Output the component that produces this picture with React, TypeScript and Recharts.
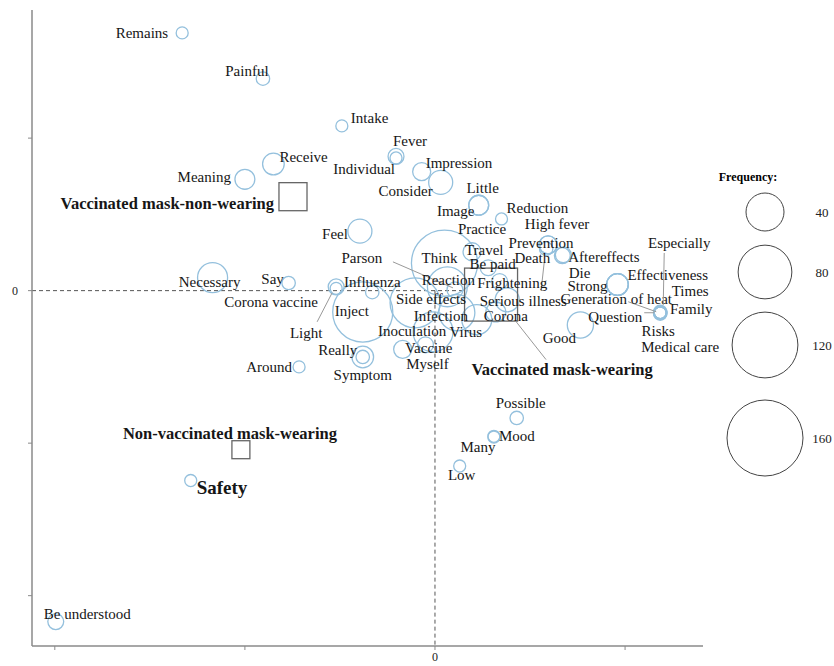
import React from 'react';
import { ScatterChart, Scatter, XAxis, YAxis, ZAxis, ReferenceLine } from 'recharts';

// correspondence analysis: words (bubbles) and respondent groups (squares)
const words = [
  'Remains', 'Painful', 'Intake', 'Fever', 'Individual', 'Impression', 'Consider', 'Little', 'Image',
  'Reduction', 'Receive', 'Meaning', 'Necessary', 'Feel', 'Say', 'Corona vaccine', 'Light', 'Influenza',
  'Inject', 'Parson', 'Think', 'Practice', 'Travel', 'Be paid', 'Reaction', 'Side effects',
  'Serious illness', 'Infection', 'Corona', 'Inoculation', 'Virus', 'Vaccine', 'Myself', 'Really',
  'Symptom', 'Around', 'High fever', 'Prevention', 'Frightening', 'Death', 'Aftereffects', 'Die',
  'Strong', 'Effectiveness', 'Generation of heat', 'Especially', 'Times', 'Family', 'Risks',
  'Medical care', 'Question', 'Good', 'Possible', 'Mood', 'Many', 'Low', 'Safety', 'Be understood',
];
const dim1 = [
  -1.33, -0.905, -0.49, -0.205, -0.205, -0.07, 0.03, 0.23, 0.23,
  0.35, -0.85, -1.0, -1.17, -0.395, -0.77, -0.52, -0.52, -0.33,
  -0.38, 0.105, 0.05, 0.195, 0.28, 0.34, 0.065, -0.105,
  0.38, 0.115, 0.32, -0.01, 0.22, -0.17, -0.05, -0.38,
  -0.38, -0.715, 0.595, 0.595, 0.585, 0.67, 0.675, 0.96,
  0.96, 0.96, 1.185, 1.185, 1.185, 1.185, 1.185,
  1.185, 1.185, 0.765, 0.43, 0.31, 0.31, 0.13, -1.285, -1.995,
];
const dim2 = [
  1.69, 1.39, 1.08, 0.88, 0.87, 0.78, 0.71, 0.56, 0.56,
  0.47, 0.83, 0.73, 0.085, 0.39, 0.05, 0.015, 0.025, -0.01,
  -0.14, 0.005, 0.18, 0.255, 0.15, 0.06, 0.025, -0.08,
  -0.06, -0.145, -0.14, -0.27, -0.19, -0.385, -0.355, -0.435,
  -0.435, -0.5, 0.3, 0.3, 0.275, 0.23, 0.235, 0.04,
  0.04, 0.04, -0.145, -0.14, -0.145, -0.15, -0.145,
  -0.145, -0.145, -0.225, -0.835, -0.955, -0.96, -1.15, -1.245, -2.17,
];
const freq = [
  4, 5, 4, 7, 4, 9, 16, 11, 11,
  4, 13, 11, 25, 16, 5, 4, 7, 5,
  100, 7, 121, 9, 7, 7, 44, 69,
  16, 36, 11, 44, 25, 9, 7, 13,
  5, 4, 9, 9, 5, 7, 7, 13,
  13, 13, 4, 5, 4, 5, 4,
  4, 5, 19, 5, 4, 4, 4, 4, 7,
];

const groups = ['Vaccinated mask-non-wearing', 'Non-vaccinated mask-wearing', 'Vaccinated mask-wearing'];
const groupDim1 = [-0.747, -1.021, 0.295];
const groupDim2 = [0.616, -1.043, -0.026];
const groupN = [280, 115, 1000];

const legendFreq = [40, 80, 120, 160];
const xTicks = [-2, -1, 0, 1];
const yTicks = [-2, -1, 0, 1];

const wordRows = words.map((w, i) => ({ word: w, x: dim1[i], y: dim2[i], f: freq[i] }));
const groupRows = groups.map((g, i) => ({ word: g, x: groupDim1[i], y: groupDim2[i], n: groupN[i] }));

const FONT = '"Liberation Serif", "Times New Roman", serif';
const BUBBLE = '#94c0dd';
const MAX_F = 160;
const MAX_R = 38;
const AREA_MAX = Math.PI * MAX_R * MAX_R;

// label placement (px from the point), a = text anchor, line = leader line
type Lab = { dx: number; dy: number; a?: 'start' | 'middle' | 'end'; line?: number[]; bold?: boolean; size?: number };
const LABELS: Record<string, Lab> = {
  Remains: { dx: -14, dy: 5, a: 'end' },
  Painful: { dx: -16, dy: -3 },
  Intake: { dx: 9, dy: -3, a: 'start' },
  Fever: { dx: 14, dy: -10 },
  Individual: { dx: -1, dy: 16, a: 'end' },
  Impression: { dx: 4, dy: -4, a: 'start' },
  Consider: { dx: -8, dy: 14, a: 'end' },
  Little: { dx: 4, dy: -12 },
  Image: { dx: -23, dy: 11 },
  Reduction: { dx: 5, dy: -6, a: 'start' },
  Receive: { dx: 6, dy: -2, a: 'start' },
  Meaning: { dx: -14, dy: 3, a: 'end' },
  Necessary: { dx: -3, dy: 9 },
  Feel: { dx: -12, dy: 8, a: 'end' },
  Say: { dx: -16, dy: 1 },
  'Corona vaccine': { dx: -65, dy: 19 },
  Light: { dx: -30, dy: 51, line: [-19, 35, -4, 6] },
  Influenza: { dx: 0, dy: -5 },
  Inject: { dx: -11, dy: 4 },
  Parson: { dx: -93, dy: -27, line: [-62, -28, -2, -2] },
  Think: { dx: -5, dy: 0 },
  Practice: { dx: 10, dy: -18 },
  Travel: { dx: -4, dy: -13 },
  'Be paid': { dx: -7, dy: -12 },
  Reaction: { dx: 1, dy: -2 },
  'Side effects': { dx: 16, dy: 1 },
  'Serious illness': { dx: 16, dy: 6 },
  Infection: { dx: -16, dy: 8 },
  Corona: { dx: 10, dy: 9 },
  Inoculation: { dx: -21, dy: 4 },
  Virus: { dx: -11, dy: 17 },
  Vaccine: { dx: 26, dy: 4 },
  Myself: { dx: 2, dy: 24 },
  Really: { dx: -25, dy: -2 },
  Symptom: { dx: 0, dy: 23 },
  Around: { dx: -7, dy: 5, a: 'end' },
  'High fever': { dx: 9, dy: -16 },
  Prevention: { dx: -7, dy: 3 },
  Frightening: { dx: -34, dy: 39, line: [-2, 14, -5, 41] },
  Death: { dx: -30, dy: 7 },
  Aftereffects: { dx: 5, dy: 7, a: 'start' },
  Die: { dx: -38, dy: -7 },
  Strong: { dx: -30, dy: 6 },
  Effectiveness: { dx: 10, dy: -5, a: 'start' },
  'Generation of heat': { dx: -44, dy: -9, line: [-32, -11, -4, -1] },
  Especially: { dx: 19, dy: -64, line: [4, -59, 3, -7] },
  Times: { dx: 30, dy: -17 },
  Family: { dx: 31, dy: 0 },
  Risks: { dx: -2, dy: 23 },
  'Medical care': { dx: 20, dy: 39 },
  Question: { dx: -45, dy: 9, line: [-16, 0, -6, 0] },
  Good: { dx: -21, dy: 18 },
  Possible: { dx: 4, dy: -10 },
  Mood: { dx: 5, dy: 5, a: 'start' },
  Many: { dx: -16, dy: 15 },
  Low: { dx: 2, dy: 14 },
  Safety: { dx: 6, dy: 13, a: 'start', bold: true, size: 19 },
  'Be understood': { dx: -12, dy: -3, a: 'start' },
  'Vaccinated mask-non-wearing': { dx: -19, dy: 12, a: 'end', bold: true, size: 16.5 },
  'Non-vaccinated mask-wearing': { dx: -11, dy: -11, bold: true, size: 16.5 },
  'Vaccinated mask-wearing': { dx: 71, dy: 80, bold: true, size: 16.5, line: [25, 27, 55, 65] },
};

const Bubble = (p: any) => {
  const r = Math.sqrt((p.size ?? 0) / Math.PI);
  return <circle cx={p.cx} cy={p.cy} r={r} fill="none" stroke={BUBBLE} strokeWidth={1.3} />;
};

const Label = (p: any) => {
  const name = p.payload.word;
  const l = LABELS[name] ?? { dx: 0, dy: 5 };
  return (
    <g>
      {l.line && (
        <line x1={p.cx + l.line[0]} y1={p.cy + l.line[1]} x2={p.cx + l.line[2]} y2={p.cy + l.line[3]}
          stroke="#999" strokeWidth={1} />
      )}
      <text x={p.cx + l.dx} y={p.cy + l.dy} textAnchor={l.a ?? 'middle'} fontFamily={FONT}
        fontSize={l.size ?? 15} fontWeight={l.bold ? 'bold' : 'normal'} fill="#161616">
        {name}
      </text>
    </g>
  );
};

const GroupMark = (p: any) => {
  const s = Math.sqrt(p.size ?? 0);
  return (
    <g>
      <rect x={p.cx - s / 2} y={p.cy - s / 2} width={s} height={s} fill="none" stroke="#666" strokeWidth={1.3} />
      <Label {...p} />
    </g>
  );
};

const axisLine = { stroke: '#8a8a8a', strokeWidth: 1.5 };
const tickStyle = { fill: '#222', fontSize: 12, fontFamily: FONT };

export default function App() {
  return (
    <div style={{ position: 'absolute', left: 0, top: 0, width: 834, height: 666, background: '#fff' }}>
      <ScatterChart width={834} height={666} margin={{ top: 10, right: 131, bottom: 0, left: 0 }}>
        <XAxis type="number" dataKey="x" domain={[-2.12, 1.41]} ticks={xTicks}
          tickFormatter={(v) => (v === 0 ? '0' : '')} height={20} tickSize={4}
          axisLine={axisLine} tickLine={{ stroke: '#8a8a8a' }} tick={tickStyle} />
        <YAxis type="number" dataKey="y" domain={[-2.33, 1.84]} ticks={yTicks}
          tickFormatter={(v) => (v === 0 ? '0' : '')} width={32} tickSize={4} tickMargin={10}
          axisLine={axisLine} tickLine={{ stroke: '#8a8a8a' }} tick={tickStyle} />
        <ZAxis type="number" dataKey="f" domain={[0, MAX_F]} range={[0, AREA_MAX]} />
        <ZAxis zAxisId="g" type="number" dataKey="n" domain={[0, 1000]} range={[0, 2809]} />
        <ReferenceLine segment={[{ x: -2.12, y: 0 }, { x: 0.16, y: 0 }]} stroke="#555" strokeDasharray="4 3" />
        <ReferenceLine segment={[{ x: 0, y: 0 }, { x: 0, y: -2.33 }]} stroke="#555" strokeDasharray="4 3" />
        <Scatter data={wordRows} shape={Bubble} isAnimationActive={false} />
        <Scatter data={groupRows} zAxisId="g" shape={GroupMark} isAnimationActive={false} />
        <Scatter data={wordRows} shape={Label} isAnimationActive={false} />
      </ScatterChart>
      <svg width={834} height={666} style={{ position: 'absolute', left: 0, top: 0, pointerEvents: 'none' }}>
        <text x={748} y={181} textAnchor="middle" fontFamily={FONT} fontSize={12} fontWeight="bold">Frequency:</text>
        {legendFreq.map((f, i) => {
          const r = MAX_R * Math.sqrt(f / MAX_F);
          const cy = [212, 272, 345, 438][i];
          return (
            <g key={f}>
              <circle cx={765} cy={cy} r={r} fill="none" stroke="#444" strokeWidth={1} />
              <text x={822} y={cy + 5} textAnchor="middle" fontFamily={FONT} fontSize={13} fill="#222">{f}</text>
            </g>
          );
        })}
      </svg>
    </div>
  );
}
